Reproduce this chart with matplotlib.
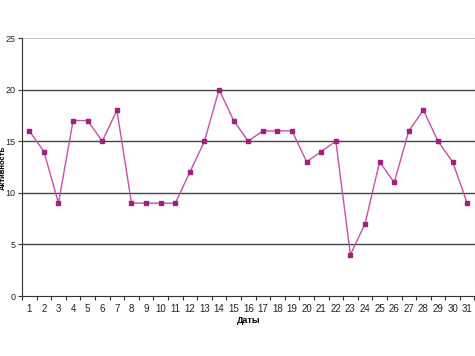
import matplotlib
matplotlib.use("Agg")
import matplotlib.pyplot as plt

days = list(range(1, 32))
activity = [16, 14, 9, 17, 17, 15, 18, 9, 9, 9, 9, 12, 15, 20, 17, 15, 16, 16, 16,
            13, 14, 15, 4, 7, 13, 11, 16, 18, 15, 13, 9]
yticks = [0, 5, 10, 15, 20, 25]

plt.rcParams['font.family'] = ['Liberation Sans', 'DejaVu Sans']
fig = plt.figure(figsize=(4.75, 3.56), dpi=100)
ax = fig.add_axes([22/475, 60/356, 452.5/475, 258/356])

ax.plot(days, activity, color='#C850A8', lw=1.0, marker='s', markersize=3.5,
        markerfacecolor='#A0207F', markeredgecolor='#A0207F', zorder=3)

ax.set_xlim(0.5, 31.5)
ax.set_ylim(0, 25)
ax.set_yticks(yticks)
ax.set_xticks(days)
ax.set_xticks([d + 0.5 for d in range(0, 32)], minor=True)
ax.tick_params(axis='x', which='major', length=0, labelsize=7, pad=6, labelcolor='#222222')
ax.tick_params(axis='x', which='minor', length=3, width=0.8, direction='out', color='#333333')
ax.tick_params(axis='y', length=3, width=0.8, direction='out', labelsize=6.5, pad=1.5,
               color='#333333', labelcolor='#222222')

for y in yticks[1:-1]:
    ax.axhline(y, color='#444444', lw=1.0, zorder=1)
ax.axhline(25, color='#BBBBBB', lw=1.2, zorder=1)

ax.spines['top'].set_visible(False)
ax.spines['right'].set_color('#BBBBBB')
ax.spines['left'].set_color('#333333')
ax.spines['bottom'].set_color('#333333')

ax.set_xlabel('Даты', fontsize=6.5, fontweight='bold', labelpad=1)
fig.text(3.5/475, 1 - 168/356, 'Активность', rotation=90, fontsize=5.5, fontweight='bold',
         ha='center', va='center')

fig.savefig('out.png', dpi=100)
